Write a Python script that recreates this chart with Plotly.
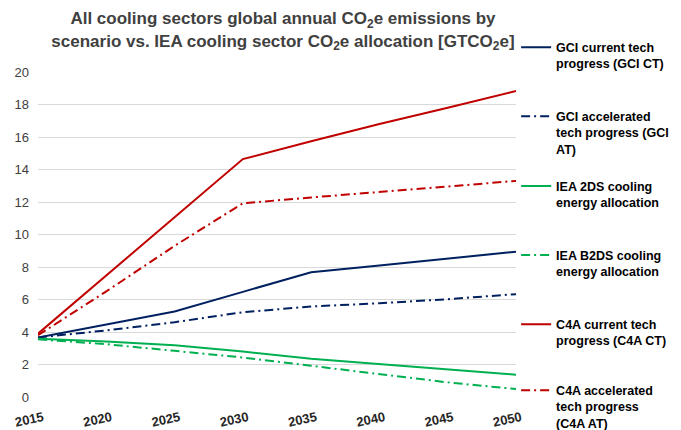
import plotly.graph_objects as go

years = [2015, 2020, 2025, 2030, 2035, 2040, 2045, 2050]
gci_ct = [3.66, 4.45, 5.26, 6.47, 7.68, 8.1, 8.5, 8.94]
gci_at = [3.66, 4.1, 4.6, 5.22, 5.57, 5.77, 6.02, 6.33]
iea_2ds = [3.58, 3.42, 3.19, 2.8, 2.35, 2.03, 1.68, 1.37]
iea_b2ds = [3.55, 3.25, 2.84, 2.43, 1.92, 1.43, 0.9, 0.49]
c4a_ct = [3.9, 7.5, 11.1, 14.64, 15.74, 16.8, 17.8, 18.83]
c4a_at = [3.8, 6.5, 9.3, 11.92, 12.28, 12.6, 12.95, 13.3]

names = [
    "GCI current tech<br>progress (GCI CT)",
    "GCI accelerated<br>tech progress (GCI<br>AT)",
    "IEA 2DS cooling<br>energy allocation",
    "IEA B2DS cooling<br>energy allocation",
    "C4A current tech<br>progress (C4A CT)",
    "C4A accelerated<br>tech progress<br>(C4A AT)",
]
series = [gci_ct, gci_at, iea_2ds, iea_b2ds, c4a_ct, c4a_at]
colors = ["#002060", "#002060", "#00B050", "#00B050", "#C00000", "#C00000"]
dashes = ["solid", "9px,4px,2px,4px", "solid", "9px,4px,2px,4px", "solid", "9px,4px,2px,4px"]
legend_ids = ["legend", "legend2", "legend3", "legend4", "legend5", "legend6"]
legend_y = [0.9419, 0.7784, 0.6126, 0.4491, 0.2855, 0.1290]

fig = go.Figure()
for n, s, c, d, lg in zip(names, series, colors, dashes, legend_ids):
    fig.add_trace(go.Scatter(x=years, y=s, name=n, mode="lines", legend=lg,
                             line=dict(color=c, width=2, dash=d)))

leg_common = dict(
    x=0.755, xref="container", yref="container", xanchor="left", yanchor="top",
    valign="top", bgcolor="rgba(0,0,0,0)",
    font=dict(size=12.5, color="#000000", weight="bold",
              family="Liberation Sans, Arial, sans-serif"),
)

# page body has an 8px margin, so the figure is drawn 8px right/down
fig.update_layout(
    width=673, height=422,
    margin=dict(l=30, r=165, t=64, b=33, autoexpand=False),
    paper_bgcolor="white", plot_bgcolor="white",
    font=dict(family="Liberation Sans, Arial, sans-serif", color="#404040"),
    title=dict(
        text="All cooling sectors global annual CO<sub>2</sub>e emissions by<br>scenario vs. IEA cooling sector CO<sub>2</sub>e allocation [GTCO<sub>2</sub>e]",
        font=dict(size=17, color="#404040", family="Liberation Sans, Arial, sans-serif", weight="bold"),
        x=0.4086, xanchor="center", y=0.961, yanchor="top",
    ),
    showlegend=True,
)
fig.update_layout({lg: dict(y=ly, **leg_common) for lg, ly in zip(legend_ids, legend_y)})
fig.update_xaxes(
    range=[2015, 2050], tickvals=years, ticktext=[str(y) for y in years],
    tickangle=-12, showgrid=False, zeroline=False, showline=False,
    ticklabelstandoff=10, ticklabelshift=5,
    tickfont=dict(size=13, color="#262626", weight="bold"),
)
fig.update_yaxes(
    range=[0, 20], dtick=2, showgrid=True, gridcolor="#D9D9D9", gridwidth=1,
    zeroline=False, showline=False, ticklabelstandoff=8,
    tickfont=dict(size=13, color="#404040"),
)
fig.write_html("out.html")
